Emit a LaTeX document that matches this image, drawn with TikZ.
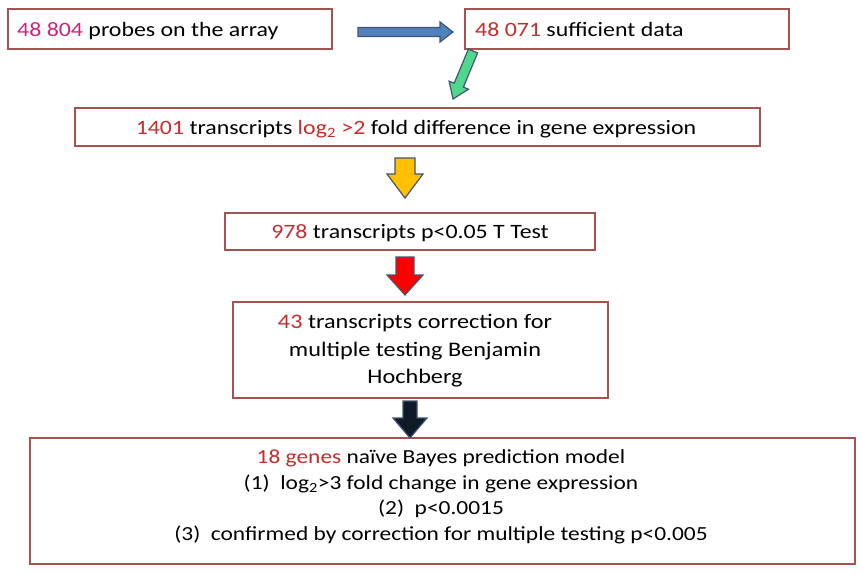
\documentclass[tikz,border=0pt]{standalone}
\usepackage{fontspec}
\setmainfont{Carlito}[FakeStretch=1.17]
\definecolor{boxc}{RGB}{165,82,80}
\definecolor{numred}{RGB}{195,45,45}
\definecolor{numpink}{RGB}{205,35,125}
\definecolor{arrline}{RGB}{65,85,115}
\definecolor{arrblue}{RGB}{79,129,189}
\definecolor{arrgreen}{RGB}{80,215,140}
\definecolor{arryellow}{RGB}{255,192,0}
\definecolor{arrred}{RGB}{255,0,0}
\definecolor{arrblack}{RGB}{15,25,40}
\newcommand\blockarr[8]{% x,y,angle,length,halfshaft,halfhead,headlen,fill
  \begin{scope}[shift={(#1,#2)},rotate=#3]
    \draw[arrow outline,fill=#8] (0,-#5) -- (#4-#7,-#5) -- (#4-#7,-#6) -- (#4,0) -- (#4-#7,#6) -- (#4-#7,#5) -- (0,#5) -- cycle;
  \end{scope}}
\begin{document}
\begin{tikzpicture}[x=1pt,y=-1pt,
  box/.style={draw=boxc,line width=2.5pt,inner sep=0pt},
  txt/.style={inner sep=0pt,font=\fontsize{20.4}{24}\selectfont},
  txtb/.style={inner sep=0pt,font=\fontsize{20.7}{24}\selectfont},
  txts/.style={inner sep=0pt,font=\fontsize{20}{24}\selectfont},
  arrow outline/.style={draw=arrline,line width=1.2pt,line join=miter}]
\useasboundingbox (0,0) rectangle (863,574);
\fill[white] (0,0) rectangle (863,574);
% boxes
\node[box,minimum width=324pt,minimum height=40pt] (b1) at (170,29) {};
\node[box,minimum width=324pt,minimum height=40pt] (b2) at (627,29) {};
\node[box,minimum width=685pt,minimum height=38pt] (b3) at (417.5,127) {};
\node[box,minimum width=370pt,minimum height=37pt] (b4) at (410,231.5) {};
\node[box,minimum width=375pt,minimum height=96pt] (b5) at (420.5,350) {};
\node[box,minimum width=825pt,minimum height=126pt] (b6) at (442.5,501) {};
% texts
\node[txt,anchor=base west] (t1) at (17,36) {\textcolor{numpink}{48 804} probes on the array};
\node[txt,anchor=base west] (t2) at (475,36) {\textcolor{numred}{48 071} sufficient data};
\node[txt,anchor=base] (t3) at (416,134) {\textcolor{numred}{1401} transcripts \textcolor{numred}{log\textsubscript{2} >2} fold difference in gene expression};
\node[txt,anchor=base] (t4) at (410,238) {\textcolor{numred}{978} transcripts p<0.05 T Test};
\node[txtb,anchor=base] (t5a) at (415,328) {\textcolor{numred}{43} transcripts correction for};
\node[txtb,anchor=base] (t5b) at (415,356) {multiple testing Benjamin};
\node[txtb,anchor=base] (t5c) at (415,383) {Hochberg};
\node[txts,anchor=base] (t6a) at (441,463) {\textcolor{numred}{18 genes} naïve Bayes prediction model};
\node[txts,anchor=base] (t6b) at (441,489) {(1)\ \ log\textsubscript{2}>3 fold change in gene expression};
\node[txts,anchor=base] (t6c) at (441,514) {(2)\ \ p<0.0015};
\node[txts,anchor=base] (t6d) at (441,540) {(3)\ \ confirmed by correction for multiple testing p<0.005};
% block arrows
\blockarr{358}{32}{0}{95}{4.5}{10}{13}{arrblue}
\blockarr{473}{51}{247.4}{52}{5}{10.5}{15}{arrgreen}
\blockarr{405}{158}{270}{40}{10}{18}{24}{arryellow}
\blockarr{405}{257}{270}{38}{9}{18}{20}{arrred}
\blockarr{410}{401}{270}{37}{7}{17}{20}{arrblack}
\end{tikzpicture}
\end{document}
